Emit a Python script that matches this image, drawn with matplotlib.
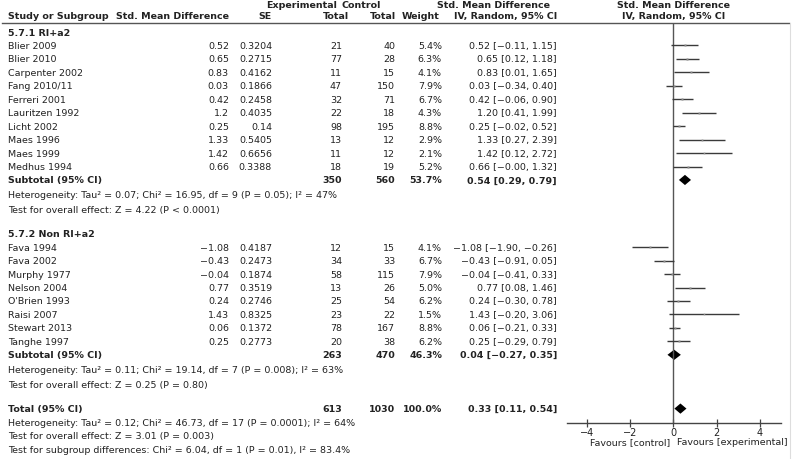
import matplotlib
matplotlib.use("Agg")
import matplotlib.pyplot as plt
from matplotlib.patches import Polygon

# ---------------- data ----------------
studies1 = ["Blier 2009", "Blier 2010", "Carpenter 2002", "Fang 2010/11", "Ferreri 2001",
            "Lauritzen 1992", "Licht 2002", "Maes 1996", "Maes 1999", "Medhus 1994"]
smd1 = [0.52, 0.65, 0.83, 0.03, 0.42, 1.2, 0.25, 1.33, 1.42, 0.66]
se1 = [0.3204, 0.2715, 0.4162, 0.1866, 0.2458, 0.4035, 0.14, 0.5405, 0.6656, 0.3388]
exp1 = [21, 77, 11, 47, 32, 22, 98, 13, 11, 18]
ctl1 = [40, 28, 15, 150, 71, 18, 195, 12, 12, 19]
w1 = [5.4, 6.3, 4.1, 7.9, 6.7, 4.3, 8.8, 2.9, 2.1, 5.2]
lo1 = [-0.11, 0.12, 0.01, -0.34, -0.06, 0.41, -0.02, 0.27, 0.12, -0.0]
hi1 = [1.15, 1.18, 1.65, 0.40, 0.90, 1.99, 0.52, 2.39, 2.72, 1.32]

studies2 = ["Fava 1994", "Fava 2002", "Murphy 1977", "Nelson 2004", "O'Brien 1993",
            "Raisi 2007", "Stewart 2013", "Tanghe 1997"]
smd2 = [-1.08, -0.43, -0.04, 0.77, 0.24, 1.43, 0.06, 0.25]
se2 = [0.4187, 0.2473, 0.1874, 0.3519, 0.2746, 0.8325, 0.1372, 0.2773]
exp2 = [12, 34, 58, 13, 25, 23, 78, 20]
ctl2 = [15, 33, 115, 26, 54, 22, 167, 38]
w2 = [4.1, 6.7, 7.9, 5.0, 6.2, 1.5, 8.8, 6.2]
lo2 = [-1.90, -0.91, -0.41, 0.08, -0.30, -0.20, -0.21, -0.29]
hi2 = [-0.26, 0.05, 0.33, 1.46, 0.78, 3.06, 0.33, 0.79]

# pooled: exp total, ctl total, weight, estimate, lower, upper
sub1 = [350, 560, 53.7, 0.54, 0.29, 0.79]
sub2 = [263, 470, 46.3, 0.04, -0.27, 0.35]
total = [613, 1030, 100.0, 0.33, 0.11, 0.54]

group_titles = ["5.7.1 RI+a2", "5.7.2 Non RI+a2"]
notes1 = ["Heterogeneity: Tau² = 0.07; Chi² = 16.95, df = 9 (P = 0.05); I² = 47%",
          "Test for overall effect: Z = 4.22 (P < 0.0001)"]
notes2 = ["Heterogeneity: Tau² = 0.11; Chi² = 19.14, df = 7 (P = 0.008); I² = 63%",
          "Test for overall effect: Z = 0.25 (P = 0.80)"]
notes_total = ["Heterogeneity: Tau² = 0.12; Chi² = 46.73, df = 17 (P = 0.0001); I² = 64%",
               "Test for overall effect: Z = 3.01 (P = 0.003)",
               "Test for subgroup differences: Chi² = 6.04, df = 1 (P = 0.01), I² = 83.4%"]
xticks = [-4, -2, 0, 2, 4]
fav_left = "Favours [control]"
fav_right = "Favours [experimental]"

# ---------------- layout ----------------
W, H = 792, 460
ROW0, DY = 33.0, 13.45      # pixel y of row 0 and row spacing
FS = 6.8
TXT = "#222222"


def m(v):
    return str(v).replace("-", "\u2212")


def ci(e, l, h):
    return (f"{e:.2f} [{l:.2f}, {h:.2f}]").replace("-", "\u2212")


fig = plt.figure(figsize=(W / 100, H / 100), dpi=100)
ax = fig.add_axes([0, 0, 1, 1])
ax.set_xlim(0, W)
ax.set_ylim((H - ROW0) / DY, -ROW0 / DY)
ax.axis("off")

# forest axes: x from 567 to 781 px, zero at 673.3, 21.6 px per unit
fx0, fx1, zero_px, ppu = 567, 781, 673.3, 21.6
axis_y_px, top_px = 424, 23.5
fax = fig.add_axes([fx0 / W, (H - axis_y_px) / H, (fx1 - fx0) / W, (axis_y_px - top_px) / H])
fax.set_xlim((fx0 - zero_px) / ppu, (fx1 - zero_px) / ppu)
fax.set_ylim((axis_y_px - ROW0) / DY, (top_px - ROW0) / DY)
fax.patch.set_alpha(0)
for s in ["top", "right", "left"]:
    fax.spines[s].set_visible(False)
fax.spines["bottom"].set_color("#444444")
fax.spines["bottom"].set_linewidth(1.0)
fax.set_yticks([])
fax.set_xticks(xticks)
fax.set_xticklabels([m(t) for t in xticks])
fax.tick_params(axis="x", direction="inout", length=6, width=0.9, color="#444444",
                labelsize=FS + 0.2, labelcolor=TXT, pad=0)
fax.axvline(0, color="#555555", lw=1.0)

# column right edges (px)
X_NAME, X_SMD, X_SE, X_EXP, X_CTL, X_W, X_CI = 8, 229, 272, 342, 395, 442, 557

# header
hy1, hy2 = -2.07, -1.25
kw = dict(fontsize=FS, color=TXT, va="center", fontweight="bold")
ax.text(X_NAME, hy2, "Study or Subgroup", ha="left", **kw)
ax.text(X_SMD, hy2, "Std. Mean Difference", ha="right", **kw)
ax.text(X_SE, hy2, "SE", ha="right", **kw)
ax.text(337, hy1, "Experimental", ha="right", **kw)
ax.text(349, hy2, "Total", ha="right", **kw)
ax.text(342, hy1, "Control", ha="left", **kw)
ax.text(396, hy2, "Total", ha="right", **kw)
ax.text(440, hy2, "Weight", ha="right", **kw)
ax.text(550, hy1, "Std. Mean Difference", ha="right", **kw)
ax.text(X_CI, hy2, "IV, Random, 95% CI", ha="right", **kw)
ax.text(zero_px, hy1, "Std. Mean Difference", ha="center", **kw)
ax.text(zero_px, hy2, "IV, Random, 95% CI", ha="center", **kw)
ax.plot([2, 789], [(top_px - ROW0) / DY] * 2, color="#555555", lw=1.0)
ax.plot([789.5, 789.5], [(top_px - ROW0) / DY, (H - ROW0) / DY], color="#dddddd", lw=0.8)


def study_rows(start, names, smd, se, ex, ct, w, lo, hi):
    for i, nm in enumerate(names):
        r = start + i
        k = dict(fontsize=FS, color=TXT, va="center")
        ax.text(X_NAME, r, nm, ha="left", **k)
        ax.text(X_SMD, r, m(smd[i]), ha="right", **k)
        ax.text(X_SE, r, m(se[i]), ha="right", **k)
        ax.text(X_EXP, r, str(ex[i]), ha="right", **k)
        ax.text(X_CTL, r, str(ct[i]), ha="right", **k)
        ax.text(X_W, r, f"{w[i]:.1f}%", ha="right", **k)
        ax.text(X_CI, r, ci(smd[i], lo[i], hi[i]), ha="right", **k)
        fax.plot([lo[i], hi[i]], [r, r], color="#3a3a3a", lw=1.0, solid_capstyle="butt")
        fax.plot([smd[i]], [r], marker="s", ms=0.9 + 0.12 * w[i], color="#8a8a8a", mec="none")


def pooled_row(r, label, vals):
    k = dict(fontsize=FS, color=TXT, va="center", fontweight="bold")
    ax.text(X_NAME, r, label, ha="left", **k)
    ax.text(X_EXP, r, str(vals[0]), ha="right", **k)
    ax.text(X_CTL, r, str(vals[1]), ha="right", **k)
    ax.text(X_W, r, f"{vals[2]:.1f}%", ha="right", **k)
    ax.text(X_CI, r, ci(vals[3], vals[4], vals[5]), ha="right", **k)
    e, l, h = vals[3], vals[4], vals[5]
    half = max((h - l) / 2, 0.28)
    dh = 0.38
    fax.add_patch(Polygon([[e - half, r], [e, r - dh], [e + half, r], [e, r + dh]],
                          closed=True, color="black", lw=0))


def notes(start, lines, gap=1.1):
    for j, t in enumerate(lines):
        ax.text(X_NAME, start + j * gap, t, ha="left", va="center", fontsize=FS, color=TXT)


ax.text(X_NAME, 0, group_titles[0], ha="left", va="center", fontsize=FS, color=TXT, fontweight="bold")
study_rows(1, studies1, smd1, se1, exp1, ctl1, w1, lo1, hi1)
pooled_row(11, "Subtotal (95% CI)", sub1)
notes(12.1, notes1)

ax.text(X_NAME, 15, group_titles[1], ha="left", va="center", fontsize=FS, color=TXT, fontweight="bold")
study_rows(16, studies2, smd2, se2, exp2, ctl2, w2, lo2, hi2)
pooled_row(24, "Subtotal (95% CI)", sub2)
notes(25.1, notes2)

pooled_row(28, "Total (95% CI)", total)
notes(29, notes_total, gap=1.02)

fav_y = (443 - ROW0) / DY
ax.text(zero_px - 3, fav_y, fav_left, ha="right", va="center", fontsize=FS, color=TXT)
ax.text(zero_px + 4, fav_y, fav_right, ha="left", va="center", fontsize=FS, color=TXT)

fig.savefig("out.png", dpi=100)
